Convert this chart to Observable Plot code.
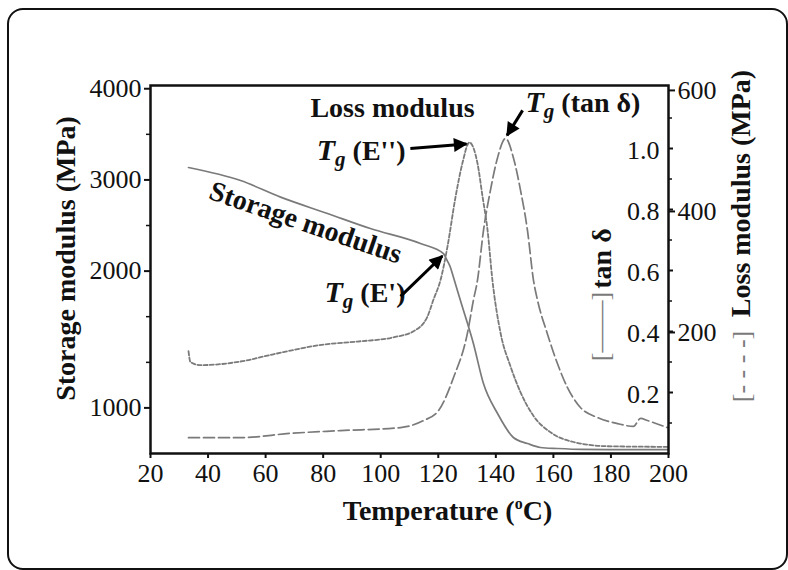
<!DOCTYPE html>
<html><head><meta charset="utf-8">
<script src="https://cdn.jsdelivr.net/npm/d3@7"></script>
<script src="https://cdn.jsdelivr.net/npm/@observablehq/plot@0.6"></script>
<style>
body{margin:0;background:#fff;}
#wrap{position:relative;width:788px;height:570px;overflow:hidden;background:#fff;}
#box{position:absolute;left:7px;top:8px;width:777px;height:558px;border:2.5px solid #111;border-radius:16px;}
#chart{position:absolute;left:0;top:0;}
</style></head><body><div id="wrap"><div id="box"></div><div id="chart"></div></div>
<script>
// ---- data ----
const xTicks = [20, 40, 60, 80, 100, 120, 140, 160, 180, 200];
const storageTicks = [1000, 2000, 3000, 4000];
const storageMinor = [1333, 1667, 2500, 3500];
const tanTicks = [0.2, 0.4, 0.6, 0.8, 1.0];
const tanMinor = [0.1, 0.3, 0.5, 0.7, 0.9, 1.1];
const lossTicks = [200, 400, 600];

const storageT   = [33.2, 51.3, 65.2, 81.5, 96.4, 113.8, 121.8, 123.1, 124.2, 125.3, 127.7, 132.2, 135.7, 140.6, 146.1, 151.0, 155.5, 161.4, 170, 185, 199.6];
const storageMPa = [3136, 2993, 2811, 2632, 2467, 2303, 2193, 2116, 2043, 1953, 1785, 1471, 1178, 877, 351, 219, 132, 110, 90, 85, 85];

const lossT   = [33.2, 33.9, 37.4, 51.3, 62.7, 80.1, 91.9, 104.4, 111.4, 116.2, 118.3, 120.8, 123.2, 126.0, 128.4, 130.8, 133.6, 135.4, 137.1, 138.8, 141.6, 145.1, 148.6, 153.1, 159.0, 167.0, 178.8, 199.6];
const lossMPa = [169, 151, 146, 152, 164, 180, 185, 192, 202, 226, 254, 287, 342, 424, 480, 514, 480, 424, 370, 287, 200, 144, 101, 62, 35, 19, 12, 11];

const tanT     = [33.2, 51.3, 68.6, 86.0, 106.9, 114.9, 120.1, 125.3, 130.1, 132.2, 133.6, 135.7, 138.1, 140.6, 143.4, 146.1, 148.6, 151.0, 153.1, 154.5, 157.9, 161.4, 164.9, 169.4, 175.3, 182.3, 187.8, 190.3, 192.7, 199.6];
const tanDelta = [0.052, 0.052, 0.066, 0.075, 0.085, 0.108, 0.141, 0.249, 0.393, 0.502, 0.567, 0.731, 0.862, 0.970, 1.033, 0.970, 0.862, 0.731, 0.567, 0.502, 0.393, 0.295, 0.216, 0.151, 0.118, 0.098, 0.089, 0.115, 0.108, 0.085];

// glass transition temperatures marked in the figure
const TgStorage = 121.8, TgLoss = 130.8, TgTan = 143.4;

// ---- axis calibrations (common y scale is expressed in tan δ units) ----
const yMax = 1.2066;
const storageIndex = d3.scaleLinear().domain([0, 1000, 2000, 3000, 4000]).range([0, 1, 4, 6, 8]); // evenly spaced tick marks
const tanPerTick = 0.1495;
const sY = s => storageIndex(s) * tanPerTick;
const lY = L => L / 504;

const storage = storageT.map((t, i) => ({t, y: sY(storageMPa[i])}));
const loss = lossT.map((t, i) => ({t, y: lY(lossMPa[i])}));
const tan = tanT.map((t, i) => ({t, y: tanDelta[i]}));

const at = (arr, T) => arr.reduce((a, b) => Math.abs(b.t - T) < Math.abs(a.t - T) ? b : a);
const pS = at(storage, TgStorage), pL = at(loss, TgLoss), pT = at(tan, TgTan);

const storageLabel = new Map(storageTicks.map(v => [sY(v), String(v)]));
const lossLabel = new Map(lossTicks.map(v => [lY(v), String(v)]));

const gray = "#7a7a7a";
const FONT = "'Liberation Serif','Times New Roman',serif";
const mid = {textAnchor: "middle", lineAnchor: "middle"};
const tag = name => ({ariaLabel: () => name});

const plot = Plot.plot({
  width: 788, height: 570,
  marginLeft: 150, marginRight: 120, marginTop: 85, marginBottom: 117,
  style: {fontFamily: FONT, fontSize: "26px", background: "transparent", color: "#111"},
  x: {domain: [20, 200], axis: null},
  y: {domain: [0, yMax], axis: null},
  marks: [
    // curves
    Plot.line(storage, {x: "t", y: "y", stroke: gray, strokeWidth: 1.7, curve: "monotone-x"}),
    Plot.line(loss, {x: "t", y: "y", stroke: gray, strokeWidth: 1.8, strokeDasharray: "4,2.2", curve: "monotone-x"}),
    Plot.line(tan, {x: "t", y: "y", stroke: gray, strokeWidth: 1.7, strokeDasharray: "11,4", curve: "monotone-x"}),
    Plot.frame({stroke: "#111", strokeWidth: 2.5}),
    // bottom axis
    Plot.axisX(xTicks, {tickSize: 5, tickPadding: 5, label: null, strokeWidth: 2}),
    // left storage axis (non-uniform labels)
    Plot.axisY(storageTicks.map(sY), {anchor: "left", tickSize: 6, tickPadding: 3, label: null, strokeWidth: 2, tickFormat: d => storageLabel.get(d)}),
    Plot.axisY(storageMinor.map(sY), {anchor: "left", tickSize: 4, label: null, strokeWidth: 1.5, tickFormat: () => ""}),
    // tan δ ticks and labels inside the frame
    Plot.axisY(tanTicks, {anchor: "right", tickSize: 4, label: null, strokeWidth: 2, tickFormat: () => ""}),
    Plot.axisY(tanMinor, {anchor: "right", tickSize: 3, label: null, strokeWidth: 1.5, tickFormat: () => ""}),
    Plot.text(tanTicks, {y: d => d, frameAnchor: "right", text: d => d.toFixed(1), textAnchor: "end", lineAnchor: "middle", dx: -9, dy: 2}),
    // loss modulus axis outside right
    Plot.axisY(lossTicks.map(lY), {anchor: "right", tickSize: 6, tickPadding: 3, label: null, strokeWidth: 2, tickFormat: d => lossLabel.get(d)}),
    // axis titles
    Plot.text(["Storage modulus (MPa)"], {...mid, text: d => d, frameAnchor: "left", rotate: -90, dx: -84, dy: -11, fontWeight: "bold", fontSize: 28}),
    Plot.text(["Temperature (ºC)"], {...mid, ...tag("xtitle"), text: d => d, frameAnchor: "bottom", dx: 38, dy: 58, fontWeight: "bold", fontSize: 28}),
    Plot.text(["tan δ"], {...mid, text: d => d, frameAnchor: "right", rotate: -90, dx: -66, dy: -11, fontWeight: "bold", fontSize: 28}),
    Plot.text(["[——]"], {...mid, text: d => d, frameAnchor: "right", rotate: -90, dx: -68, dy: 57, fill: gray, fontSize: 26}),
    Plot.text(["Loss modulus (MPa)"], {...mid, text: d => d, frameAnchor: "right", rotate: -90, dx: 73, dy: -76, fontWeight: "bold", fontSize: 28}),
    Plot.text(["[- - - -]"], {...mid, text: d => d, frameAnchor: "right", rotate: -90, dx: 73, dy: 97, fill: gray, fontSize: 26}),
    // annotations
    Plot.text(["Loss modulus"], {...mid, text: d => d, x: 104.1, y: 1.134, fontWeight: "bold", fontSize: 28}),
    Plot.text(["Storage modulus"], {...mid, text: d => d, x: 73.9, y: 0.757, rotate: 19, fontWeight: "bold", fontSize: 28}),
    Plot.text(["Tg (E'')"], {...tag("tg-loss"), text: d => d, x: 108.6, y: 0.993, textAnchor: "end", lineAnchor: "middle", fontWeight: "bold", fontSize: 28}),
    Plot.text(["Tg (tan δ)"], {...tag("tg-tan"), text: d => d, x: 150.3, y: 1.148, textAnchor: "start", lineAnchor: "middle", fontWeight: "bold", fontSize: 28}),
    Plot.text(["Tg (E')"], {...tag("tg-storage"), text: d => d, x: 108.6, y: 0.525, textAnchor: "end", lineAnchor: "middle", fontWeight: "bold", fontSize: 28}),
    Plot.link([pL], {...tag("arrow"), x1: 110.3, y1: 1.0, x2: d => d.t - 1.0, y2: d => d.y - 0.005, stroke: "#000", strokeWidth: 3}),
    Plot.link([pT], {...tag("arrow"), x1: 149.3, y1: 1.125, x2: d => d.t + 0.5, y2: d => d.y + 0.01, stroke: "#000", strokeWidth: 3}),
    Plot.link([pS], {...tag("arrow"), x1: 106.9, y1: 0.515, x2: d => d.t - 0.4, y2: d => d.y - 0.008, stroke: "#000", strokeWidth: 3})
  ]
});

document.getElementById("chart").appendChild(plot);

// ---- rich text (italic subscripts, superscript) and filled arrowheads ----
const NS = "http://www.w3.org/2000/svg";
function textsOf(label) {
  const out = [];
  plot.querySelectorAll(`[aria-label="${label}"]`).forEach(el => {
    if (el.tagName.toLowerCase() === "text") out.push(el);
    else el.querySelectorAll("text").forEach(t => out.push(t));
  });
  return out;
}
function rich(label, segs) {
  textsOf(label).forEach(t => {
    t.textContent = "";
    let shift = 0;
    for (const s of segs) {
      const ts = document.createElementNS(NS, "tspan");
      ts.textContent = s.text;
      if (s.italic) ts.setAttribute("font-style", "italic");
      if (s.size) ts.setAttribute("font-size", s.size);
      const d = (s.dy || 0) - shift;
      if (d) ts.setAttribute("dy", d);
      shift = s.dy || 0;
      t.appendChild(ts);
    }
  });
}
const tg = rest => [{text: "T", italic: true, size: 30}, {text: "g", italic: true, size: 21, dy: 6}, {text: " " + rest}];
rich("tg-loss", tg("(E'')"));
rich("tg-tan", tg("(tan δ)"));
rich("tg-storage", tg("(E')"));
rich("xtitle", [{text: "Temperature ("}, {text: "o", size: 16, dy: -11}, {text: "C)"}]);

const defs = document.createElementNS(NS, "defs");
defs.innerHTML = '<marker id="ah" viewBox="0 0 10 10" refX="9" refY="5" markerWidth="17" markerHeight="14" markerUnits="userSpaceOnUse" orient="auto"><path d="M0,0L10,5L0,10z" fill="#000"/></marker>';
plot.insertBefore(defs, plot.firstChild);
plot.querySelectorAll('[aria-label="arrow"]').forEach(el => {
  const paths = el.tagName.toLowerCase() === "path" ? [el] : el.querySelectorAll("path");
  paths.forEach(p => p.setAttribute("marker-end", "url(#ah)"));
});
</script></body></html>
